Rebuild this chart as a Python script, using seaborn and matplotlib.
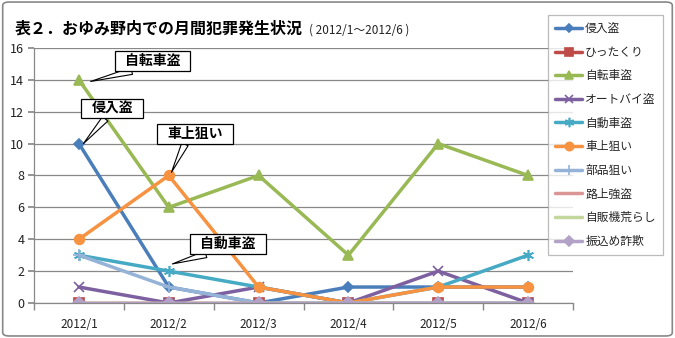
import matplotlib
matplotlib.use("Agg")
import matplotlib.pyplot as plt
from matplotlib.patches import FancyBboxPatch
from matplotlib.path import Path
import seaborn as sns
import pandas as pd

months = ["2012/1", "2012/2", "2012/3", "2012/4", "2012/5", "2012/6"]
series_names = ["侵入盗", "ひったくり", "自転車盗", "オートバイ盗", "自動車盗",
                "車上狙い", "部品狙い", "路上強盗", "自販機荒らし", "振込め詐欺"]
shinnyu = [10, 1, 0, 1, 1, 1]
hittakuri = [0, 0, 0, 0, 0, 0]
jitensha = [14, 6, 8, 3, 10, 8]
autobike = [1, 0, 1, 0, 2, 0]
jidosha = [3, 2, 1, 0, 1, 3]
shajo = [4, 8, 1, 0, 1, 1]
buhin = [3, 1, 0, 0, 0, 0]
rojo = [0, 0, 0, 0, 0, 0]
jihanki = [0, 0, 0, 0, 0, 0]
furikome = [0, 0, 0, 0, 0, 0]
values = [shinnyu, hittakuri, jitensha, autobike, jidosha,
          shajo, buhin, rojo, jihanki, furikome]

colors = ["#4A7EBB", "#BE4B48", "#98B954", "#7D60A0", "#46AAC5",
          "#F69240", "#95B3D7", "#D99694", "#C3D69B", "#B3A2C7"]
markers = ["D", "s", "^", "x", (6, 2, 0), "o", "+", None, None, "D"]
msizes = [5, 7, 7, 7, 8, 7, 8, 0, 0, 6]

sns.set_theme(style="white")
plt.rcParams["font.family"] = ["Noto Sans CJK JP", "DejaVu Sans"]

fig = plt.figure(figsize=(6.75, 3.38), dpi=100)
ax = fig.add_axes([0.0504, 0.1036, 0.7985, 0.7544])

for name, vals, c, m, ms in zip(series_names, values, colors, markers, msizes):
    df = pd.DataFrame({"month": months, "count": vals})
    kw = {}
    if m is not None:
        kw = dict(marker=m, markersize=ms, markeredgecolor=c, markerfacecolor=c,
                  markeredgewidth=1.2)
    sns.lineplot(data=df, x="month", y="count", ax=ax, color=c, lw=2.5,
                 label=name, **kw)

ax.set_xlim(-0.5, 5.5)
ax.set_ylim(0, 16)
ax.set_yticks(range(0, 17, 2))
ax.set_xlabel("")
ax.set_ylabel("")
ax.grid(axis="y", color="#888888", lw=0.9)
ax.set_axisbelow(True)
for s in ["top", "right"]:
    ax.spines[s].set_visible(False)
for s in ["left", "bottom"]:
    ax.spines[s].set_color("#888888")
    ax.spines[s].set_linewidth(0.9)
ax.tick_params(axis="y", which="major", left=True, length=4, color="#888888",
               labelsize=9, labelcolor="#222222", pad=3)
ax.tick_params(axis="x", which="major", bottom=False, labelsize=8.5,
               labelcolor="#222222", pad=5)
ax.set_xticks([i - 0.5 for i in range(7)], minor=True)
ax.tick_params(axis="x", which="minor", bottom=True, length=5, color="#888888")


def wide_box(x0, y0, width, height, mutation_size):
    padx = 0.72 * mutation_size
    pady = 0.2 * mutation_size
    x0, y0 = x0 - padx, y0 - pady
    x1, y1 = x0 + width + 2 * padx, y0 + height + 2 * pady
    return Path([(x0, y0), (x1, y0), (x1, y1), (x0, y1), (x0, y0)], closed=True)


callouts = [
    ("自転車盗", (0.13, 13.9), (0.82, 15.2), (0.35, 0.0)),
    ("侵入盗", (0.05, 10.0), (0.37, 12.2), (0.4, 0.0)),
    ("車上狙い", (1.03, 8.2), (1.29, 10.6), (0.35, 0.0)),
    ("自動車盗", (1.04, 2.45), (1.66, 3.7), (0.3, 0.0)),
]
for text, xy, xytext, rp in callouts:
    ax.annotate(text, xy=xy, xytext=xytext, xycoords="data", textcoords="data",
                ha="center", va="center", fontsize=10, fontweight="bold",
                color="black",
                bbox=dict(boxstyle=wide_box, fc="white", ec="black", lw=0.9),
                arrowprops=dict(arrowstyle="wedge,tail_width=0.5", fc="white",
                                ec="black", lw=0.8, relpos=rp, shrinkA=0, shrinkB=0),
                zorder=10)

leg = ax.legend(loc="upper left", bbox_to_anchor=(548 / 675, 1 - 15 / 338),
                bbox_transform=fig.transFigure, fontsize=8.5, frameon=True,
                fancybox=False, edgecolor="#AAAAAA", handlelength=2.3,
                labelspacing=0.9, borderpad=0.6, handletextpad=0.25,
                borderaxespad=0, numpoints=1, markerscale=0.85)
leg.get_frame().set_linewidth(0.9)
leg.set_zorder(20)

fig.text(0.022, 0.915, "表２．おゆみ野内での月間犯罪発生状況", fontsize=11.5,
         fontweight="bold", color="black", ha="left", va="center")
fig.text(0.458, 0.912, "( 2012/1～2012/6 )", fontsize=8.5, color="#222222",
         ha="left", va="center")

border = FancyBboxPatch((0.004, 0.006), 0.992, 0.988, boxstyle="round,pad=0,rounding_size=0.01",
                        transform=fig.transFigure, fc="none", ec="#888888", lw=1.2)
fig.patches.append(border)

fig.savefig("out.png", dpi=100, facecolor="white")
